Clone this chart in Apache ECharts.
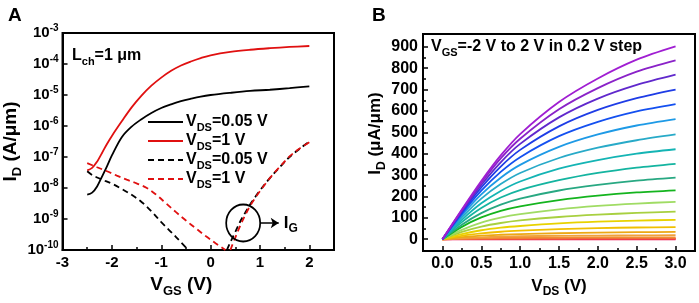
<!DOCTYPE html>
<html>
<head>
<meta charset="utf-8">
<script src="https://cdn.jsdelivr.net/npm/echarts@6/dist/echarts.min.js"></script>
<style>
html, body { margin: 0; padding: 0; background: #fff; }
#chart { width: 699px; height: 303px; }
</style>
</head>
<body>
<div id="chart"></div>
<script>
// ---- panel A: transfer curves, values are log10(I / (A/um)) ----
var vgsOn = [-2.5, -2.4, -2.3, -2.2, -2.1, -2.0, -1.8, -1.6, -1.4, -1.2, -1.0,
  -0.8, -0.6, -0.4, -0.2, 0, 0.4, 0.8, 1.2, 1.6, 2.0];
var idVds005Log = [-8.21, -8.15, -7.95, -7.63, -7.30, -6.95, -6.36, -6.02, -5.78, -5.58, -5.42,
  -5.30, -5.20, -5.12, -5.05, -5.00, -4.93, -4.87, -4.83, -4.78, -4.72];
var idVds1Log = [-7.43, -7.35, -7.15, -6.87, -6.58, -6.32, -5.85, -5.40, -5.02, -4.70, -4.44,
  -4.22, -4.05, -3.92, -3.81, -3.72, -3.61, -3.54, -3.49, -3.45, -3.42];

// gate current, falling branch and rising branch
var igVds005DownX = [-2.5, -2.4, -2.3, -2.2, -2.0, -1.8, -1.6, -1.4, -1.2, -1.0, -0.8, -0.6, -0.45];
var igVds005DownLog = [-7.46, -7.58, -7.66, -7.73, -7.86, -8.03, -8.22, -8.45, -8.75, -9.10, -9.42, -9.75, -10.0];
var igVds005UpX = [0.33, 0.4, 0.5, 0.6, 0.7, 0.8, 0.9, 1.0, 1.2, 1.4, 1.6, 1.8, 2.0];
var igVds005UpLog = [-10.0, -9.75, -9.42, -9.08, -8.80, -8.53, -8.30, -8.08, -7.68, -7.33, -7.00, -6.74, -6.50];
var igVds1DownX = [-2.5, -2.3, -2.1, -1.9, -1.7, -1.5, -1.3, -1.1, -0.9, -0.7, -0.5, -0.3, -0.1, 0.1, 0.3];
var igVds1DownLog = [-7.20, -7.33, -7.46, -7.60, -7.73, -7.85, -7.99, -8.22, -8.50, -8.78, -9.05, -9.30, -9.55, -9.78, -10.0];
var igVds1UpX = [0.40, 0.5, 0.6, 0.7, 0.8, 0.9, 1.0, 1.2, 1.4, 1.6, 1.8, 2.0];
var igVds1UpLog = [-10.0, -9.6, -9.22, -8.88, -8.58, -8.33, -8.10, -7.68, -7.32, -6.98, -6.73, -6.52];

var igCircle = [0.66, -9.13];      // V, log10 I
var igArrow = [1.0, 1.38];          // V range of arrow

// ---- panel B: output curves (uA/um) ----
var vdsPoints = [0, 0.25, 0.5, 0.75, 1.0, 1.5, 2.0, 2.5, 3.0];
var vgsSteps = ['-2.0', '-1.8', '-1.6', '-1.4', '-1.2', '-1.0', '-0.8', '-0.6', '-0.4', '-0.2', '0.0',
  '0.2', '0.4', '0.6', '0.8', '1.0', '1.2', '1.4', '1.6', '1.8', '2.0'];
var idOutput = [
  [0, 0, 0, 0, 0, 0, 0, 0, 0],
  [0, 0.5, 1, 1, 1.2, 1.4, 1.5, 1.5, 1.5],
  [0, 1, 2, 3, 3, 3.5, 4, 4, 4],
  [0, 3, 5, 6, 7, 8, 8.5, 9, 9],
  [0, 5, 9, 12, 14, 16, 17, 18, 19],
  [0, 10, 17, 21, 24, 28, 31, 33, 34],
  [0, 16, 27, 35, 40, 47, 52, 55, 57],
  [0, 24, 42, 54, 62, 74, 82, 87, 91],
  [0, 34, 59, 76, 88, 104, 115, 123, 129],
  [0, 44, 78, 101, 117, 140, 156, 167, 175],
  [0, 58, 102, 133, 154, 183, 204, 219, 229],
  [0, 68, 122, 162, 190, 228, 254, 274, 288],
  [0, 80, 146, 195, 230, 276, 310, 335, 353],
  [0, 91, 168, 226, 270, 330, 370, 400, 421],
  [0, 102, 190, 258, 310, 380, 428, 463, 490],
  [0, 112, 210, 288, 348, 432, 490, 532, 562],
  [0, 120, 227, 315, 384, 482, 549, 598, 632],
  [0, 127, 242, 340, 418, 528, 605, 660, 700],
  [0, 132, 254, 360, 446, 570, 658, 722, 770],
  [0, 136, 264, 378, 470, 608, 707, 784, 837],
  [0, 139, 272, 392, 492, 642, 752, 840, 902]
];
var outputColors = ['#f0145a', '#f03c46', '#f0643c', '#f08c32', '#f0a03c', '#eca814', '#f0c000', '#e8d200',
  '#a8d040', '#a0dc64', '#14b41e', '#28a882', '#14b4a0', '#14b4b4', '#28aac8', '#1e9ae6',
  '#1450f0', '#1e3ce6', '#6028cc', '#8a22c8', '#a01ed2'];

var xTicksA = [-3, -2, -1, 0, 1, 2];
var xMinorA = [-2.5, -1.5, -0.5, 0.5, 1.5];
var xTicksB = [0, 0.5, 1.0, 1.5, 2.0, 2.5, 3.0];
var xMinorB = [0.25, 0.75, 1.25, 1.75, 2.25, 2.75];
var yTicksB = [0, 100, 200, 300, 400, 500, 600, 700, 800, 900];
var yMinorB = [50, 150, 250, 350, 450, 550, 650, 750, 850];

var FONT = 'Liberation Sans, Arial, sans-serif';

function pairs(xs, logs) {
  return xs.map(function (x, i) { return [x, Math.pow(10, logs[i])]; });
}

var subRich = {
  b: { fontFamily: FONT, fontWeight: 'bold', fontSize: 16, lineHeight: 22, verticalAlign: 'middle', color: '#000' },
  s: { fontFamily: FONT, fontWeight: 'bold', fontSize: 11, lineHeight: 9, verticalAlign: 'bottom', color: '#000' },
  B: { fontFamily: FONT, fontWeight: 'bold', fontSize: 19, lineHeight: 26, verticalAlign: 'middle', color: '#000' },
  S: { fontFamily: FONT, fontWeight: 'bold', fontSize: 13, lineHeight: 11, verticalAlign: 'bottom', color: '#000' },
  m: { fontFamily: FONT, fontWeight: 'bold', fontSize: 17, lineHeight: 24, verticalAlign: 'middle', color: '#000' },
  n: { fontFamily: FONT, fontWeight: 'bold', fontSize: 12, lineHeight: 10, verticalAlign: 'bottom', color: '#000' }
};

var legendText = {
  id005: '{b|V}{s|DS}{b|=0.05 V}',
  id1: '{b|V}{s|DS}{b|=1 V}',
  ig005: '{b|V}{s|DS}{b|=0.05 V}',
  ig1: '{b|V}{s|DS}{b|=1 V}'
};

var lineA = function (name, color, dashed, data) {
  return {
    name: name, type: 'line', xAxisIndex: 0, yAxisIndex: 0,
    data: data, symbol: 'none', smooth: 0.35, clip: true,
    lineStyle: { color: color, width: 1.8, type: dashed ? [6, 4] : 'solid' },
    itemStyle: { color: color },
    emphasis: { disabled: true }
  };
};

var series = [
  lineA('id005', '#000', false, pairs(vgsOn, idVds005Log)),
  lineA('id1', '#e01010', false, pairs(vgsOn, idVds1Log)),
  lineA('ig005', '#000', true, pairs(igVds005DownX, igVds005DownLog)),
  lineA('ig1', '#e01010', true, pairs(igVds1DownX, igVds1DownLog)),
  lineA('ig005', '#000', true, pairs(igVds005UpX, igVds005UpLog)),
  lineA('ig1', '#e01010', true, pairs(igVds1UpX, igVds1UpLog))
];

// circle and arrow marking I_G
series[4].markPoint = {
  silent: true,
  symbol: 'circle',
  symbolSize: [34, 37],
  itemStyle: { color: 'rgba(0,0,0,0)', borderColor: '#000', borderWidth: 1.8 },
  label: { show: false },
  data: [{ coord: [igCircle[0], Math.pow(10, igCircle[1])] }]
};
series[4].markLine = {
  silent: true,
  symbol: ['none', 'arrow'],
  symbolSize: 8,
  lineStyle: { color: '#000', width: 1.5, type: 'solid' },
  label: {
    show: true, position: 'end', distance: 5,
    formatter: '{m|I}{n|G}', rich: subRich
  },
  data: [[
    { coord: [igArrow[0], Math.pow(10, igCircle[1])] },
    { coord: [igArrow[1], Math.pow(10, igCircle[1])] }
  ]]
};

idOutput.forEach(function (curve, k) {
  series.push({
    name: 'VGS=' + vgsSteps[k] + ' V', type: 'line', xAxisIndex: 2, yAxisIndex: 1,
    data: vdsPoints.map(function (v, i) { return [v, curve[i]]; }),
    symbol: 'none', smooth: 0.3,
    lineStyle: { color: outputColors[k], width: 1.8 },
    itemStyle: { color: outputColors[k] },
    emphasis: { disabled: true }
  });
});

var tickLabel = { fontFamily: FONT, fontWeight: 'bold', color: '#000' };
var blackLine = { show: true, onZero: false, lineStyle: { color: '#000', width: 2 } };
var noLine = { show: false, onZero: false };

var chart = echarts.init(document.getElementById('chart'));
chart.setOption({
  animation: false,
  backgroundColor: '#fff',
  title: [
    { text: 'A', left: 3, top: 1, textStyle: { fontFamily: FONT, fontWeight: 'bold', fontSize: 19, color: '#000' } },
    { text: 'B', left: 367, top: 1, textStyle: { fontFamily: FONT, fontWeight: 'bold', fontSize: 19, color: '#000' } },
    { text: '{b|L}{s|ch}{b|=1 \u03bcm}', left: 72, top: 45, padding: 0, textStyle: { rich: subRich } },
    { text: '{b|V}{s|GS}{b|=-2 V to 2 V in 0.2 V step}', left: 431, top: 36, padding: 0, textStyle: { rich: subRich } }
  ],
  legend: {
    data: ['id005', 'id1', 'ig005', 'ig1'],
    orient: 'vertical', left: 147, top: 114, padding: 0,
    itemWidth: 35, itemHeight: 12, itemGap: 0,
    selectedMode: false,
    itemStyle: { opacity: 0 },
    formatter: function (name) { return legendText[name]; },
    textStyle: { rich: subRich, padding: [0, 0, 0, -2] }
  },
  grid: [
    { left: 54, top: 33, width: 280, height: 223, show: true, borderColor: '#000', borderWidth: 2 },
    { left: 423, top: 34, width: 272, height: 222, show: true, borderColor: '#000', borderWidth: 2 }
  ],
  xAxis: [
    {
      gridIndex: 0, type: 'value', position: 'bottom', min: -3, max: 2.5,
      axisLine: blackLine,
      axisTick: { inside: true, length: 5, customValues: xTicksA, lineStyle: { color: '#000', width: 1.5 } },
      axisLabel: Object.assign({ fontSize: 15, margin: 5, customValues: xTicksA }, tickLabel),
      splitLine: { show: false },
      name: '{B|V}{S|GS}{B| (V)}', nameLocation: 'middle', nameGap: 22,
      nameTextStyle: { rich: subRich, padding: [0, 34, 0, 0] }
    },
    {
      gridIndex: 0, type: 'value', position: 'bottom', min: -3, max: 2.5,
      axisLine: noLine,
      axisTick: { inside: true, length: 3, customValues: xMinorA, lineStyle: { color: '#000', width: 1.5 } },
      axisLabel: { show: false }, splitLine: { show: false }
    },
    {
      gridIndex: 1, type: 'value', position: 'bottom', min: -0.25, max: 3.25,
      axisLine: blackLine,
      axisTick: { inside: true, length: 5, customValues: xTicksB, lineStyle: { color: '#000', width: 1.5 } },
      axisLabel: Object.assign({ fontSize: 16, margin: 5, customValues: xTicksB,
        formatter: function (v) { return v.toFixed(1); } }, tickLabel),
      splitLine: { show: false },
      name: '{m|V}{n|DS}{m| (V)}', nameLocation: 'middle', nameGap: 23,
      nameTextStyle: { rich: subRich }
    },
    {
      gridIndex: 1, type: 'value', position: 'bottom', min: -0.25, max: 3.25,
      axisLine: noLine,
      axisTick: { inside: true, length: 3, customValues: xMinorB, lineStyle: { color: '#000', width: 1.5 } },
      axisLabel: { show: false }, splitLine: { show: false }
    }
  ],
  yAxis: [
    {
      gridIndex: 0, type: 'log', logBase: 10, min: 1e-10, max: 1e-3, position: 'left',
      axisLine: blackLine,
      axisTick: { inside: true, length: 5, lineStyle: { color: '#000', width: 1.5 } },
      axisLabel: {
        margin: 4,
        formatter: function (v) { return '{t|10}{p|' + Math.round(Math.log10(v)) + '}'; },
        rich: {
          t: { fontFamily: FONT, fontWeight: 'bold', fontSize: 15, lineHeight: 20, verticalAlign: 'middle', color: '#000' },
          p: { fontFamily: FONT, fontWeight: 'bold', fontSize: 10, lineHeight: 10, verticalAlign: 'top', color: '#000' }
        }
      },
      splitLine: { show: false },
      name: '{B|I}{S|D}{B| (A/\u03bcm)}', nameLocation: 'middle', nameGap: 32, nameRotate: 90,
      nameTextStyle: { rich: subRich }
    },
    {
      gridIndex: 1, type: 'value', position: 'left', min: -55, max: 960,
      axisLine: blackLine,
      axisTick: { inside: true, length: 5, customValues: yTicksB, lineStyle: { color: '#000', width: 1.5 } },
      axisLabel: Object.assign({ fontSize: 16, margin: 5, customValues: yTicksB }, tickLabel),
      splitLine: { show: false },
      name: '{m|I}{n|D}{m| (\u03bcA/\u03bcm)}', nameLocation: 'middle', nameGap: 35, nameRotate: 90,
      nameTextStyle: { rich: subRich, padding: [0, 0, 0, 18] }
    },
    {
      gridIndex: 1, type: 'value', position: 'left', min: -55, max: 960,
      axisLine: noLine,
      axisTick: { inside: true, length: 3, customValues: yMinorB, lineStyle: { color: '#000', width: 1.5 } },
      axisLabel: { show: false }, splitLine: { show: false }
    }
  ],
  series: series
});
</script>
</body>
</html>
